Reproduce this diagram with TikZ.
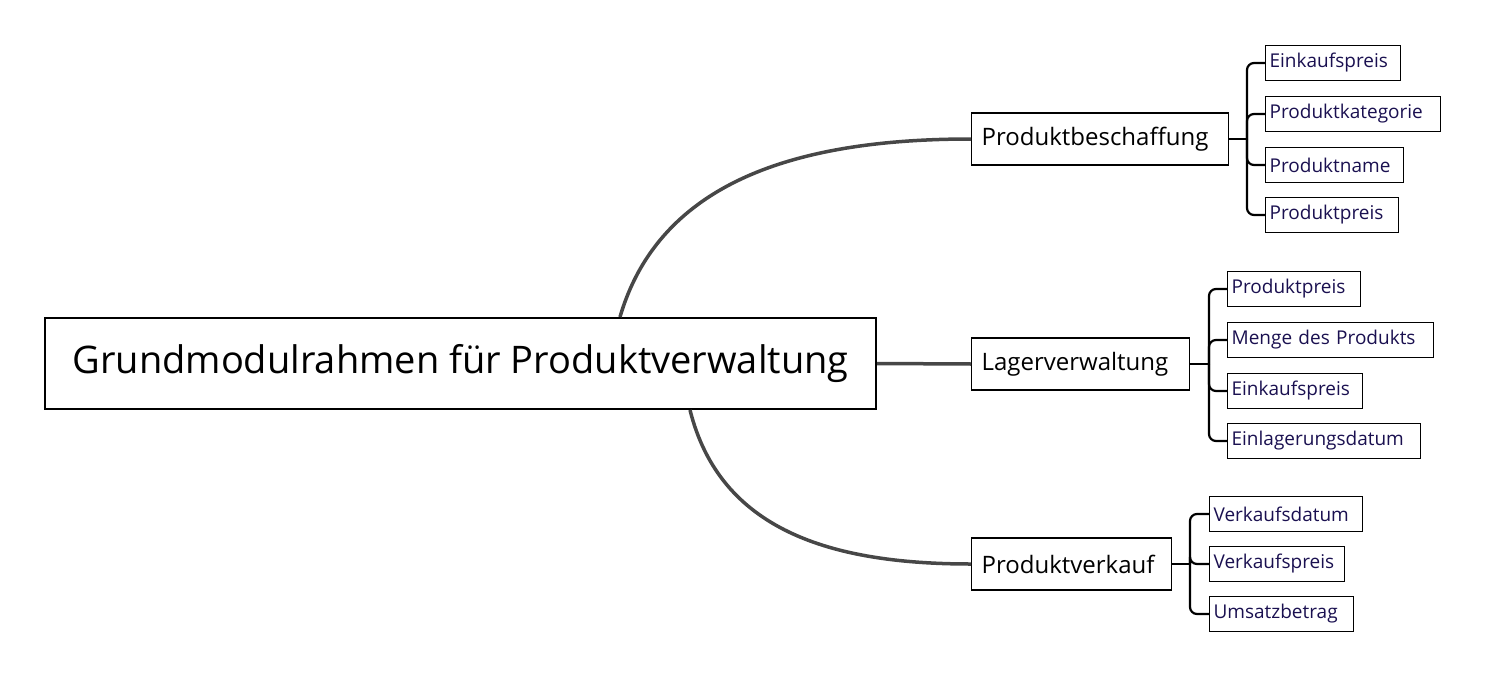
\documentclass[tikz,border=0pt]{standalone}
\usepackage{fontspec}
\setmainfont{Open Sans}
\definecolor{leafc}{HTML}{1A1050}
\begin{document}
\begin{tikzpicture}[x=1pt,y=-1pt,
  root/.style={draw,line width=2pt,minimum width=831pt,minimum height=91pt,font=\fontsize{38}{44}\selectfont},
  branch/.style={draw,line width=1.3pt,anchor=west,minimum height=52pt,inner xsep=10pt,font=\fontsize{24}{28}\selectfont},
  leaf/.style={draw,line width=1.2pt,anchor=west,minimum height=35pt,inner xsep=4pt,text=leafc,font=\fontsize{19}{22}\selectfont},
  lw/.style={text width=#1pt-8pt,align=left},
  bw/.style={text width=#1pt-20pt,align=left},
  main/.style={line width=3.5pt,draw=black!72},
  brk/.style={line width=2.2pt,rounded corners=7pt}]
\useasboundingbox (0,0) rectangle (1486,693);
\node[root] (r) at (460.5,363.5) {Grundmodulrahmen für Produktverwaltung};
\node[branch,bw=257] (b1) at (971,139) {Produktbeschaffung};
\node[branch,bw=218] (b2) at (971,364) {Lagerverwaltung};
\node[branch,bw=200] (b3) at (971,564) {Produktverkauf};
\node[leaf,lw=135] (l11) at (1265,63) {Einkaufspreis};
\node[leaf,lw=175] (l12) at (1265,114) {Produktkategorie};
\node[leaf,lw=138] (l13) at (1265,165) {Produktname};
\node[leaf,lw=133] (l14) at (1265,215) {Produktpreis};
\node[leaf,lw=133] (l21) at (1227,289) {Produktpreis};
\node[leaf,lw=206] (l22) at (1227,340) {Menge des Produkts};
\node[leaf,lw=135] (l23) at (1227,391) {Einkaufspreis};
\node[leaf,lw=193] (l24) at (1227,441) {Einlagerungsdatum};
\node[leaf,lw=153] (l31) at (1209,514) {Verkaufsdatum};
\node[leaf,lw=135] (l32) at (1209,564) {Verkaufspreis};
\node[leaf,lw=144] (l33) at (1209,614) {Umsatzbetrag};
\draw[main] (r.north -| 620,0) .. controls (660,180) and (800,139) .. (b1.west);
\draw[main] (r.east) -- (b2.west);
\draw[main] (r.south -| 690,0) .. controls (720,530) and (830,564) .. (b3.west);
\coordinate (s1) at (1247,139);
\coordinate (s2) at (1209,364);
\coordinate (s3) at (1190,564);
\draw[brk] (b1.east) -- (s1);
\foreach \l in {l11,l12,l13,l14} \draw[brk] (s1) |- (\l.west);
\draw[brk] (b2.east) -- (s2);
\foreach \l in {l21,l22,l23,l24} \draw[brk] (s2) |- (\l.west);
\draw[brk] (b3.east) -- (s3);
\foreach \l in {l31,l32,l33} \draw[brk] (s3) |- (\l.west);
\end{tikzpicture}
\end{document}
